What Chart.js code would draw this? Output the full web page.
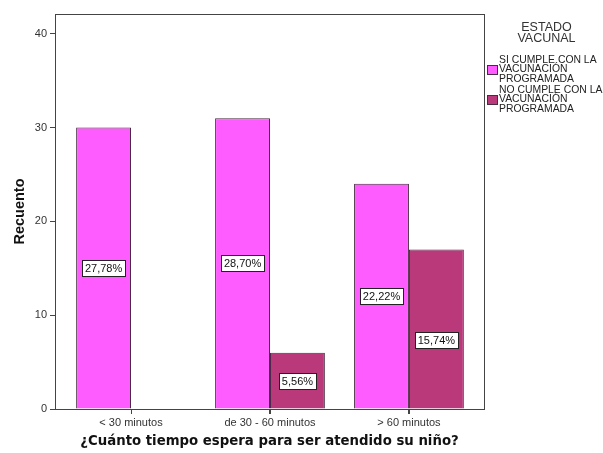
<!DOCTYPE html>
<html>
<head>
<meta charset="utf-8">
<script src="https://cdn.jsdelivr.net/npm/chart.js@4"></script>
<style>
  html, body { margin: 0; padding: 0; background: #fff; }
  #wrap { width: 603px; height: 453px; }
</style>
</head>
<body>
<div id="wrap"><canvas id="chart" width="603" height="453"></canvas></div>
<script>
const categories = ['< 30 minutos', 'de 30 - 60 minutos', '> 60 minutos'];
const cumpleCounts = [30, 31, 24];
const noCumpleCounts = [0, 6, 17];
const cumplePct = ['27,78%', '28,70%', '22,22%'];
const noCumplePct = [null, '5,56%', '15,74%'];
const seriesNames = [
  ['SI CUMPLE CON LA', 'VACUNACIÓN', 'PROGRAMADA'],
  ['NO CUMPLE CON LA', 'VACUNACIÓN', 'PROGRAMADA']
];
const legendTitle = ['ESTADO', 'VACUNAL'];
const yTicks = [0, 10, 20, 30, 40];

const PINK = '#ff5cff';
const PLUM = '#b9397a';
const EDGE = '#4a2a44';
const AXIS = '#444';

const toPoints = arr => arr.map((v, i) => ({ x: i, y: v }));

// white boxed percentage labels centred in each bar
const boxLabels = {
  id: 'boxLabels',
  afterDatasetsDraw(chart) {
    const ctx = chart.ctx;
    const texts = [cumplePct, noCumplePct];
    ctx.save();
    ctx.font = '11px "Liberation Sans", Arial, sans-serif';
    ctx.textAlign = 'center';
    ctx.textBaseline = 'middle';
    chart.data.datasets.forEach((ds, d) => {
      chart.getDatasetMeta(d).data.forEach((bar, i) => {
        const t = texts[d][i];
        if (!t) return;
        let y = (bar.y + bar.base) / 2;
        // keep the last plum label clear of its neighbour
        if (d === 1 && i === 2) y += 11;
        const w = ctx.measureText(t).width + 6;
        const h = 16;
        ctx.fillStyle = '#fff';
        ctx.fillRect(Math.round(bar.x - w / 2) + 0.5, Math.round(y - h / 2) + 0.5, Math.round(w), h);
        ctx.strokeStyle = '#222';
        ctx.lineWidth = 1;
        ctx.strokeRect(Math.round(bar.x - w / 2) + 0.5, Math.round(y - h / 2) + 0.5, Math.round(w), h);
        ctx.fillStyle = '#111';
        ctx.fillText(t, bar.x, y + 1);
      });
    });
    ctx.restore();
  }
};

// frame around plot area, category tick marks and legend on the right
const frameLegend = {
  id: 'frameLegend',
  afterDraw(chart) {
    const { ctx, chartArea: a } = chart;
    const xs = chart.scales.x;
    ctx.save();
    ctx.strokeStyle = AXIS;
    ctx.lineWidth = 1;
    ctx.strokeRect(a.left + 0.5, a.top + 0.5, a.right - a.left, a.bottom - a.top);
    ctx.beginPath();
    categories.forEach((_, i) => {
      const px = Math.round(xs.getPixelForValue(i)) + 0.5;
      ctx.moveTo(px, a.bottom);
      ctx.lineTo(px, a.bottom + 5);
    });
    ctx.stroke();

    const cx = (a.right + chart.width) / 2 + 3;
    ctx.fillStyle = '#333';
    ctx.font = '12.5px "Liberation Sans", Arial, sans-serif';
    ctx.textAlign = 'center';
    ctx.textBaseline = 'middle';
    legendTitle.forEach((s, k) => ctx.fillText(s, cx, 28 + k * 11));

    ctx.font = '10.4px "Liberation Sans", Arial, sans-serif';
    ctx.textAlign = 'left';
    const colors = [PINK, PLUM];
    seriesNames.forEach((lines, s) => {
      const top = 60 + s * 30;
      ctx.fillStyle = colors[s];
      ctx.fillRect(a.right + 3, top + 5, 10, 9);
      ctx.strokeStyle = EDGE;
      ctx.strokeRect(a.right + 3.5, top + 5.5, 10, 9);
      ctx.fillStyle = '#222';
      lines.forEach((ln, k) => ctx.fillText(ln, a.right + 15, top + k * 9.5));
    });
    ctx.restore();
  }
};

new Chart(document.getElementById('chart'), {
  type: 'bar',
  data: {
    datasets: [
      {
        label: seriesNames[0].join(' '),
        data: toPoints(cumpleCounts),
        backgroundColor: PINK,
        borderColor: EDGE,
        borderWidth: 1,
        borderSkipped: 'start'
      },
      {
        label: seriesNames[1].join(' '),
        data: toPoints(noCumpleCounts),
        backgroundColor: PLUM,
        borderColor: EDGE,
        borderWidth: 1,
        borderSkipped: 'start'
      }
    ]
  },
  options: {
    responsive: false,
    animation: false,
    layout: { padding: { left: 0, right: 119, top: 14, bottom: 0 } },
    categoryPercentage: 0.79,
    barPercentage: 1,
    plugins: {
      legend: { display: false },
      tooltip: { enabled: false }
    },
    scales: {
      x: {
        type: 'linear',
        min: -0.547,
        max: 2.54,
        offset: false,
        afterBuildTicks: s => { s.ticks = categories.map((_, i) => ({ value: i })); },
        afterFit: s => { s.height = 44; },
        grid: { offset: false, drawOnChartArea: false, drawTicks: true, tickLength: 5, color: AXIS },
        border: { color: AXIS },
        ticks: {
          padding: 2,
          color: '#333',
          font: { family: '"Liberation Sans", Arial, sans-serif', size: 11 },
          callback: v => categories[v]
        },
        title: {
          display: true,
          text: '¿Cuánto tiempo espera para ser atendido su niño?',
          color: '#111',
          font: { family: '"DejaVu Sans", Verdana, sans-serif', size: 13.3, weight: 'bold' },
          padding: { top: 0, bottom: 3 }
        }
      },
      y: {
        min: 0,
        max: 42.1,
        afterBuildTicks: s => { s.ticks = yTicks.map(v => ({ value: v })); },
        afterFit: s => { s.width = 55; },
        grid: { drawOnChartArea: false, drawTicks: true, tickLength: 5, color: AXIS },
        border: { color: AXIS },
        ticks: {
          padding: 3,
          color: '#333',
          font: { family: '"Liberation Sans", Arial, sans-serif', size: 11 }
        },
        title: {
          display: true,
          text: 'Recuento',
          color: '#111',
          font: { family: '"Liberation Sans", Arial, sans-serif', size: 14.5, weight: 'bold' },
          padding: { top: 11, bottom: 0 }
        }
      }
    }
  },
  plugins: [boxLabels, frameLegend]
});
</script>
</body>
</html>
